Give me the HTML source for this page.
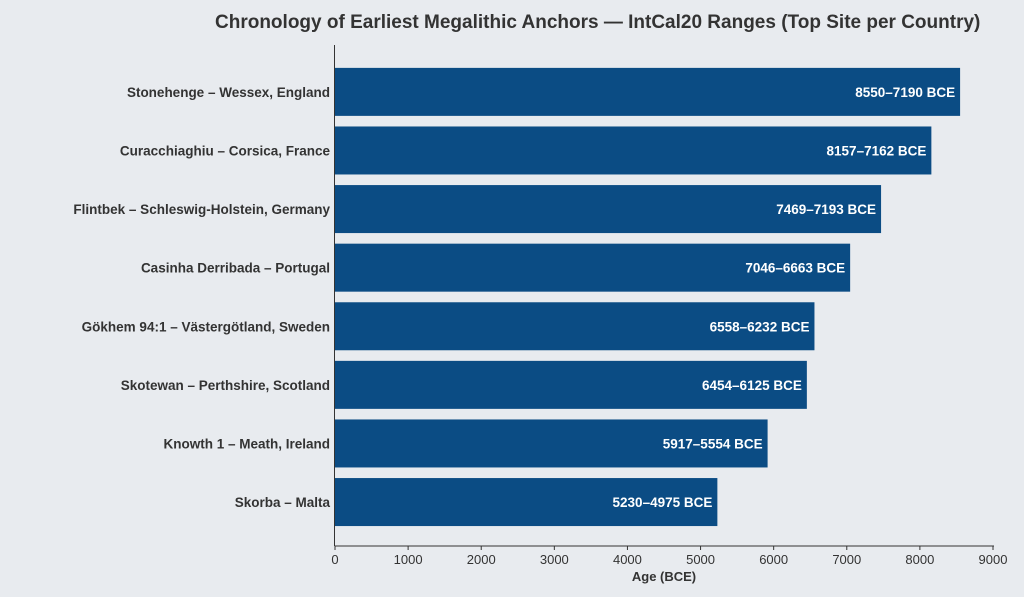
<!DOCTYPE html>
<html><head><meta charset="utf-8"><style>
body{margin:0;background:#e8ebef;}
svg{display:block;font-family:"Liberation Sans","DejaVu Sans",sans-serif;}
</style></head><body>
<svg id="chart" width="1024" height="597" viewBox="0 0 1024 597" xmlns="http://www.w3.org/2000/svg">
<rect width="1024" height="597" fill="#e8ebef"/>
<text x="215" y="28" font-size="19" font-weight="bold" fill="#333">Chronology of Earliest Megalithic Anchors — IntCal20 Ranges (Top Site per Country)</text>
<g id="plot"></g>
<text x="664" y="581" font-size="13" font-weight="bold" fill="#333" text-anchor="middle">Age (BCE)</text>
</svg>
<script>
const categories=["Stonehenge – Wessex, England","Curacchiaghiu – Corsica, France","Flintbek – Schleswig-Holstein, Germany","Casinha Derribada – Portugal","Gökhem 94:1 – Västergötland, Sweden","Skotewan – Perthshire, Scotland","Knowth 1 – Meath, Ireland","Skorba – Malta"];
const startValues=[8550,8157,7469,7046,6558,6454,5917,5230];
const endValues=[7190,7162,7193,6663,6232,6125,5554,4975];
const xTicks=[0,1000,2000,3000,4000,5000,6000,7000,8000,9000];
const NS="http://www.w3.org/2000/svg";
const g=document.getElementById('plot');
const x0=335,x1=993,xMax=9000,yTop=45,yBot=546;
const xs=v=>x0+(v/xMax)*(x1-x0);
const band=(yBot-yTop)/(categories.length+0.55);
const yc=i=>yTop+band*(0.8+i);
function mk(t,a){const e=document.createElementNS(NS,t);for(const k in a)e.setAttribute(k,a[k]);g.appendChild(e);return e;}
categories.forEach((c,i)=>{
 const r=mk('rect',{x:x0,y:yc(i)-24,width:xs(startValues[i])-x0,height:48,fill:'#0b4c84'});
 
 
 const l=mk('text',{x:x0-5,y:yc(i)+5,'font-size':13.5,'font-weight':'bold',fill:'#333','text-anchor':'end'});
 l.textContent=c;
 
 
 const v=mk('text',{x:xs(startValues[i])-5,y:yc(i)+5,'font-size':13.5,'font-weight':'bold',fill:'#fff','text-anchor':'end'});
 v.textContent=startValues[i]+'–'+endValues[i]+' BCE';
 
 
});
const ax=mk('line',{x1:x0-0.5,y1:yTop,x2:x0-0.5,y2:yBot,stroke:'#333','stroke-width':1});


const bx=mk('line',{x1:x0-0.5,y1:yBot,x2:x1+1,y2:yBot,stroke:'#333','stroke-width':1});


xTicks.forEach(t=>{
 const tk=mk('line',{x1:xs(t),y1:yBot,x2:xs(t),y2:yBot+4,stroke:'#333'});
 
 
 const tl=mk('text',{x:xs(t),y:yBot+18,'font-size':13,fill:'#333','text-anchor':'middle'});
 tl.textContent=t;
 
 
});
</script>
</body></html>
